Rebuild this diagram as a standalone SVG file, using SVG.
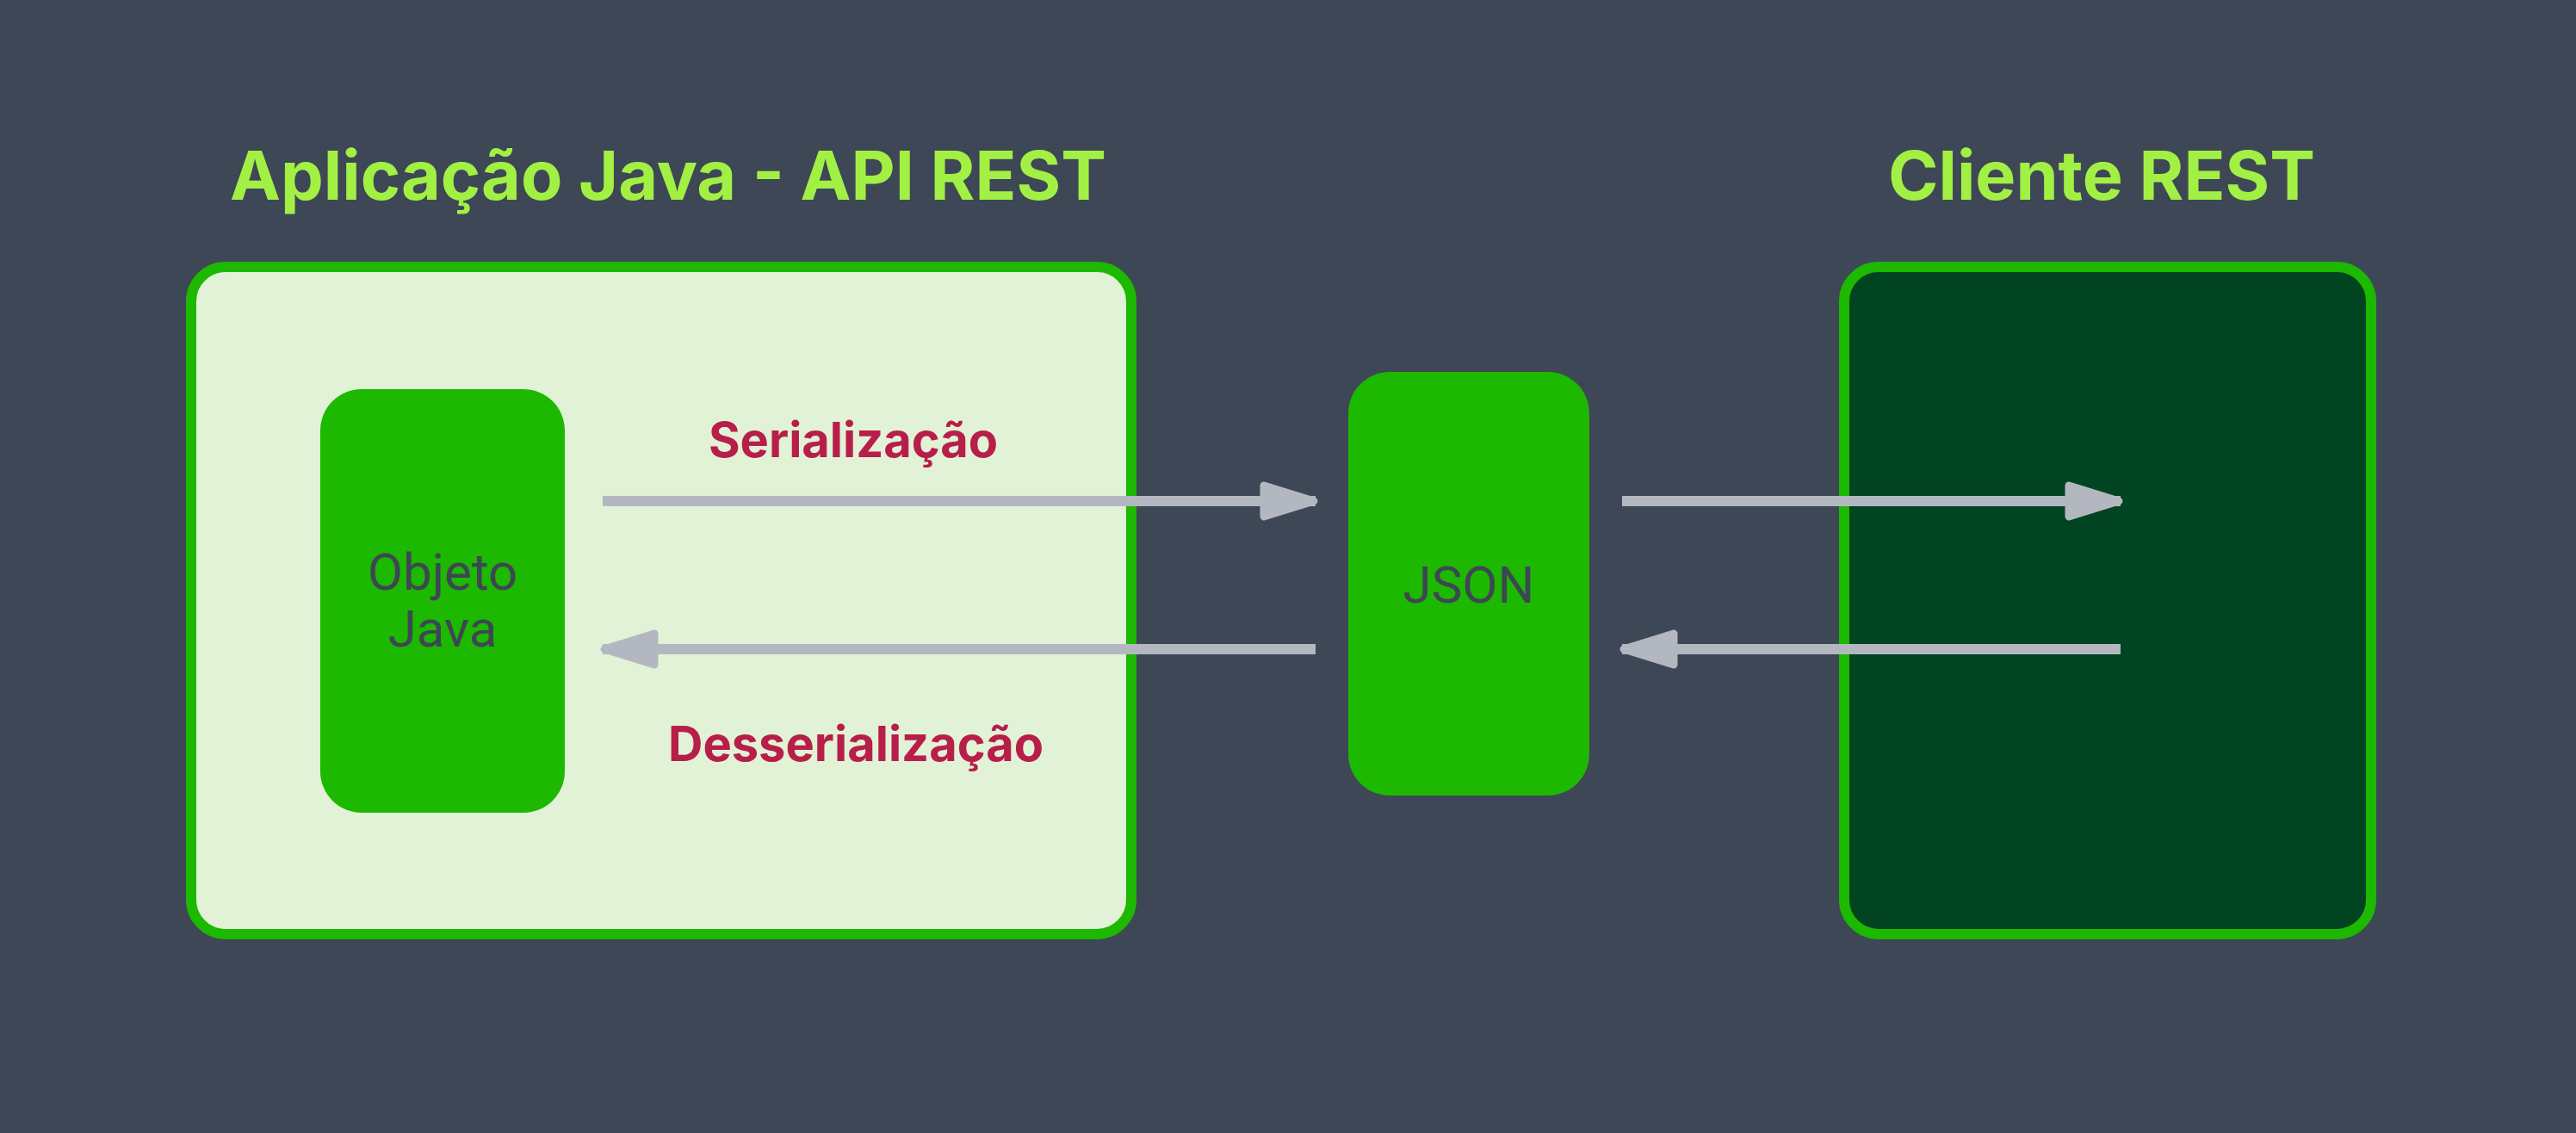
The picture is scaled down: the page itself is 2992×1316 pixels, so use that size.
<svg xmlns="http://www.w3.org/2000/svg" width="2992" height="1316" viewBox="0 0 2992 1316">
  <style>
    .title { font-family: Inter, "Liberation Sans", sans-serif; font-weight: 700; font-size: 79px; fill: #a3f045; text-anchor: middle; }
    .label { font-family: Inter, "Liberation Sans", sans-serif; font-weight: 700; font-size: 56px; fill: #b81e4a; text-anchor: middle; }
    .nodetext { font-family: Roboto, "Liberation Sans", sans-serif; font-size: 60px; fill: #3d4754; text-anchor: middle; }
    .frame { stroke: #1db800; stroke-width: 12; }
    .inner { fill: #1db800; }
    .conn { stroke: #b3b8c0; stroke-width: 12; fill: none; }
    .shadow { stroke: #000; stroke-opacity: 0.35; stroke-width: 12; fill: none; filter: url(#blur); }
  </style>
  <defs>
    <filter id="blur" x="-10%" y="-300%" width="120%" height="700%">
      <feGaussianBlur stdDeviation="5"/>
    </filter>
    <marker id="head" viewBox="0 0 70 48" refX="66" refY="24" markerWidth="70" markerHeight="48" markerUnits="userSpaceOnUse" orient="auto-start-reverse">
      <path d="M6,6 L64,24 L6,42 Z" fill="#b3b8c0" stroke="#b3b8c0" stroke-width="9" stroke-linejoin="round"/>
    </marker>
  </defs>
  <rect width="2992" height="1316" fill="#3e4755"/>

  <g id="app">
    <text class="title" x="776" y="232">Aplicação Java - API REST</text>
    <rect class="frame" x="222" y="310" width="1092" height="775" rx="40" fill="#e2f2d6"/>
  </g>

  <g id="client">
    <text class="title" x="2441" y="232">Cliente REST</text>
    <rect class="frame" x="2142" y="310" width="612" height="775" rx="40" fill="#014421"/>
  </g>

  <g id="objeto">
    <rect class="inner" x="372" y="452" width="284" height="492" rx="48"/>
    <text class="nodetext" x="514" y="685">Objeto</text>
    <text class="nodetext" x="514" y="751">Java</text>
  </g>

  <g id="json">
    <rect class="inner" x="1566" y="432" width="280" height="492" rx="48"/>
    <text class="nodetext" x="1706" y="700">JSON</text>
  </g>

  <g id="labels">
    <text class="label" x="991" y="531">Serialização</text>
    <text class="label" x="994" y="884">Desserialização</text>
  </g>

  <g id="connectors">
    <g id="shadows">
      <line class="shadow" x1="702" y1="594" x2="1460" y2="594"/>
      <line class="shadow" x1="768" y1="766" x2="1526" y2="766"/>
      <line class="shadow" x1="1886" y1="594" x2="2396" y2="594"/>
      <line class="shadow" x1="1952" y1="766" x2="2462" y2="766"/>
    </g>
    <line class="conn" x1="700" y1="582" x2="1528" y2="582" marker-end="url(#head)"/>
    <line class="conn" x1="1528" y1="754" x2="700" y2="754" marker-end="url(#head)"/>
    <line class="conn" x1="1884" y1="582" x2="2463" y2="582" marker-end="url(#head)"/>
    <line class="conn" x1="2463" y1="754" x2="1884" y2="754" marker-end="url(#head)"/>
  </g>
</svg>
